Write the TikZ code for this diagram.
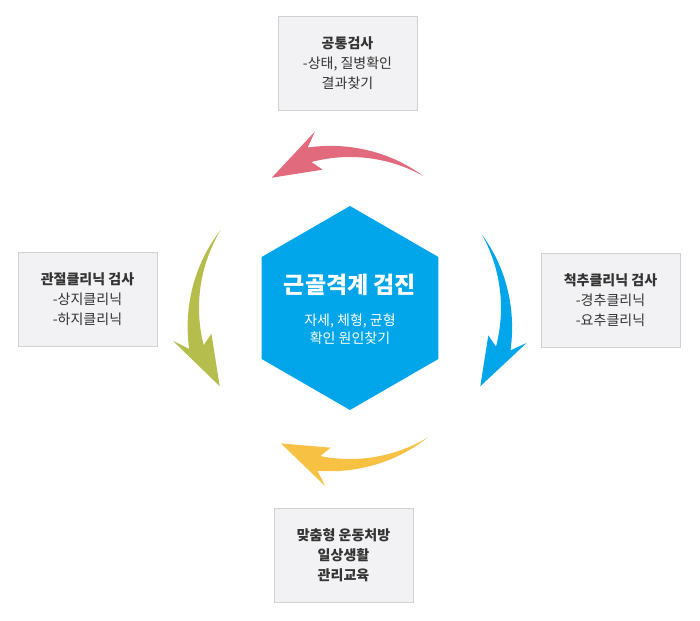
\documentclass[tikz,border=0pt]{standalone}
\usepackage{fontspec}
\setmainfont{Noto Sans CJK KR}
\definecolor{pinkarr}{HTML}{E26A7D}
\definecolor{bluearr}{HTML}{00A6E9}
\definecolor{olivearr}{HTML}{B5BE4C}
\definecolor{yellowarr}{HTML}{F7C243}
\definecolor{boxgray}{HTML}{F2F2F4}
\definecolor{txtgray}{HTML}{333333}
\tikzset{
  stepbox/.style={draw=black!18, fill=boxgray, minimum width=139pt, minimum height=94pt,
    align=center, text=txtgray, font=\fontsize{14}{20}\selectfont},
}
% colour, tail angle, tip angle
\newcommand\cycarrow[3]{%
  \pgfmathsetmacro\hb{#3-0.27*(#3-#2)}
  \pgfmathsetmacro\hbb{#3-0.33*(#3-#2)}
  \fill[#1] plot[domain=0:1,samples=30,variable=\t] ({#2+(\hb-#2)*\t}:{151+15*\t})
    -- (\hbb:180) -- (#3:152) -- (\hbb:141) -- (\hb:151) arc[start angle=\hb, end angle=#2, radius=151] -- cycle;
}
\begin{document}
\begin{tikzpicture}[x=1pt,y=1pt]
\useasboundingbox (0,0) rectangle (700,620);

\begin{scope}[shift={(350,312)}]
\cycarrow{pinkarr}{61}{121}
\cycarrow{bluearr}{29}{-31}
\cycarrow{olivearr}{149}{211}
\cycarrow{yellowarr}{301}{243}
\fill[bluearr] (90:102) -- (150:102) -- (210:102) -- (270:102) -- (330:102) -- (30:102) -- cycle;
\end{scope}

\node[text=white, font=\fontsize{23}{26}\selectfont\bfseries] (title) at (350,335) {근골격계 검진};
\node[text=white, align=center, font=\fontsize{14}{18}\selectfont] (sub) at (350,291) {자세, 체형, 균형\\확인 원인찾기};

\node[stepbox] (top) at (347.5,557) {\textbf{공통검사}\\-상태, 질병확인\\결과찾기};
\node[stepbox] (left) at (87.5,321) {\textbf{관절클리닉 검사}\\-상지클리닉\\-하지클리닉};
\node[stepbox] (right) at (610.5,320) {\textbf{척추클리닉 검사}\\-경추클리닉\\-요추클리닉};
\node[stepbox] (bottom) at (343.5,64.5) {\textbf{맞춤형 운동처방}\\\textbf{일상생활}\\\textbf{관리교육}};
\end{tikzpicture}
\end{document}
